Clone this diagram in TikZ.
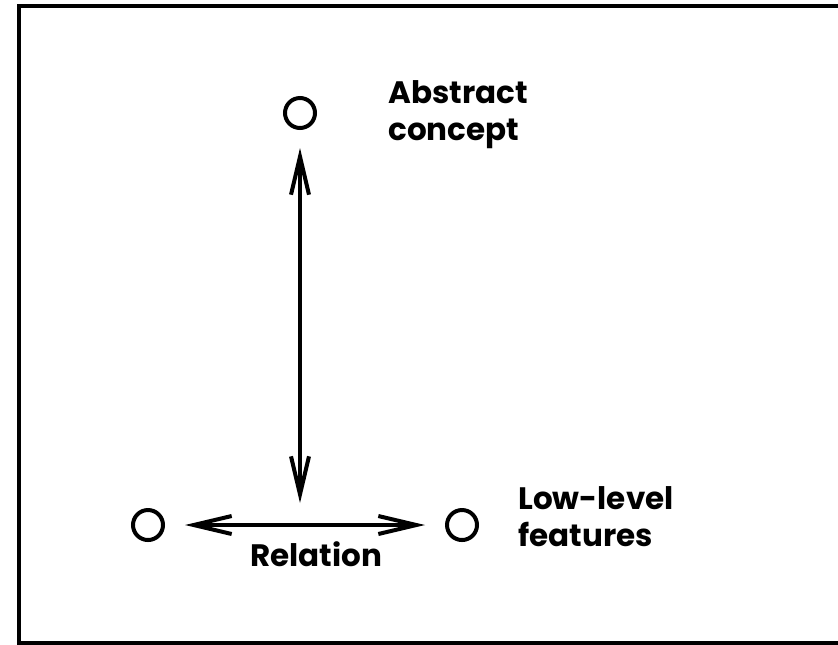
\documentclass[tikz,border=0pt]{standalone}
\usepackage{fontspec}
\setmainfont{Poppins}
\usetikzlibrary{positioning,arrows.meta}

\begin{document}
\begin{tikzpicture}[
    x=0.5pt, y=-0.5pt,
    every node/.style={font=\fontsize{15.5}{18.5}\selectfont\bfseries},
    concept/.style={circle, draw, line width=2pt, minimum size=15pt, inner sep=0pt},
    caption/.style={inner sep=0pt, align=left},
    link/.style={{Straight Barb[length=19pt,width=9pt]}-{Straight Barb[length=19pt,width=9pt]}, line width=2pt}
]
\useasboundingbox (0,0) rectangle (838,644);

% Frame
\draw[line width=2pt] (19,6) rectangle (850,643);

% Concept nodes
\node[concept] (abstract) at (300,113) {};
\node[concept] (left) at (148,525) {};
\node[concept] (right) at (462,525) {};
\coordinate (mid) at (300,525);

% Labels
\node[caption, anchor=north west] (abstractlbl) at (388,80) {Abstract\\concept};
\node[caption, anchor=north west] (lowlbl) at (518,486) {Low-level\\features};
\node[caption, anchor=north] (relation) at (316,541) {Relation};

% Connectors
\draw[link, shorten <=9pt, shorten >=11pt] (abstract) -- (mid);
\draw[link, shorten <=10pt, shorten >=10pt] (left) -- (right);

\end{tikzpicture}
\end{document}
